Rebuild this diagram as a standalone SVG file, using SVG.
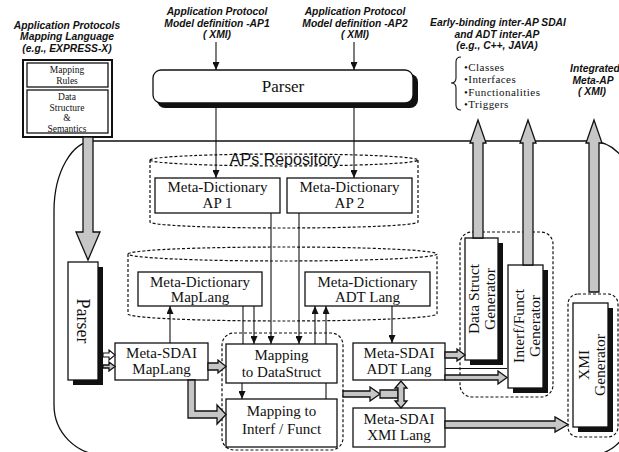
<svg xmlns="http://www.w3.org/2000/svg" width="619" height="452" viewBox="0 0 619 452">
<defs>
<style>
.lbl{font-family:"Liberation Sans",Arial,sans-serif;font-weight:bold;font-style:italic;font-size:10.3px;fill:#111;text-anchor:middle}
.t{font-family:"Liberation Serif","Times New Roman",serif;font-size:15px;fill:#111;text-anchor:middle}
.s{font-family:"Liberation Serif","Times New Roman",serif;font-size:9.5px;fill:#111;text-anchor:middle}
.b{font-family:"Liberation Serif","Times New Roman",serif;font-size:11px;letter-spacing:0.45px;fill:#111;text-anchor:start}
.box{fill:#fff;stroke:#111;stroke-width:1.3}
.sh{fill:#111}
.dash{fill:none;stroke:#111;stroke-width:1.2;stroke-dasharray:3 2}
.ln{fill:none;stroke:#111;stroke-width:1.1}
.gray{fill:#c6c6c6;stroke:#111;stroke-width:1.3}
.hol{fill:#fff;stroke:#111;stroke-width:1.1}
</style>
<marker id="ah" markerUnits="userSpaceOnUse" markerWidth="8" markerHeight="7" refX="8" refY="3.5" orient="auto">
<path d="M0,0 L8,3.5 L0,7 z" fill="#111"/>
</marker>
</defs>
<rect width="619" height="452" fill="#fff"/>

<!-- outer boundary -->
<path id="boundary" d="M94 141 H590 A40 40 0 0 1 630 181 V415 A40 40 0 0 1 590 455 H104 A50 50 0 0 1 54 405 V211 A40 70 0 0 1 94 141 Z" fill="none" stroke="#111" stroke-width="1.3"/>

<!-- labels -->
<g id="label-maplang">
<text class="lbl" x="67" y="29">Application Protocols</text>
<text class="lbl" x="67" y="40">Mapping Language</text>
<text class="lbl" x="67" y="51.5">(e.g., EXPRESS-X)</text>
</g>
<g id="label-ap1">
<text class="lbl" x="217" y="15">Application Protocol</text>
<text class="lbl" x="217" y="26.5">Model definition -AP1</text>
<text class="lbl" x="217" y="38">( XMI)</text>
</g>
<g id="label-ap2">
<text class="lbl" x="355" y="15">Application Protocol</text>
<text class="lbl" x="355" y="26.5">Model definition -AP2</text>
<text class="lbl" x="355" y="38">( XMI)</text>
</g>
<g id="label-early">
<text class="lbl" x="498" y="26">Early-binding inter-AP SDAI</text>
<text class="lbl" x="497" y="37.5">and ADT inter-AP</text>
<text class="lbl" x="497" y="49">(e.g., C++, JAVA)</text>
<path class="ln" d="M461 57 Q456 57 456 62 V78 Q456 83 451 83 Q456 83 456 88 V105 Q456 110 461 110"/>
<text class="b" x="464" y="71">•Classes</text>
<text class="b" x="464" y="83.3">•Interfaces</text>
<text class="b" x="464" y="95.6">•Functionalities</text>
<text class="b" x="464" y="108">•Triggers</text>
</g>
<g id="label-integrated">
<text class="lbl" x="595" y="72">Integrated</text>
<text class="lbl" x="593" y="83.5">Meta-AP</text>
<text class="lbl" x="592" y="95">( XMI)</text>
</g>

<!-- mapping language box -->
<g id="maplang-source">
<rect x="23" y="60" width="89" height="77" fill="#fff" stroke="#111" stroke-width="2"/>
<rect class="box" x="27" y="63" width="81" height="24"/>
<rect class="box" x="27" y="90" width="81" height="43"/>
<text class="s" x="67" y="73">Mapping</text>
<text class="s" x="67" y="84">Rules</text>
<text class="s" x="67" y="100">Data</text>
<text class="s" x="67" y="110.5">Structure</text>
<text class="s" x="67" y="121">&amp;</text>
<text class="s" x="67" y="131.5">Semantics</text>
</g>

<!-- top parser -->
<g id="parser-top">
<rect class="sh" x="157" y="74" width="261" height="34" rx="8"/>
<rect class="box" x="153" y="70" width="260" height="33" rx="8"/>
<text class="t" style="font-size:17px" x="283" y="92">Parser</text>
</g>

<!-- repository cylinder -->
<g id="aps-repository">
<path class="dash" d="M150 160 A134 6 0 0 1 418 160 A134 6 0 0 1 150 160 Z M150 160 V222 A134 6 0 0 0 418 222 V160"/>
<text x="285" y="165" style="font-family:'Liberation Sans',Arial,sans-serif;font-size:16px;fill:#111;text-anchor:middle">APs Repository</text>
</g>
<g id="md-ap1">
<rect class="box" x="155" y="178" width="125" height="35"/>
<text class="t" x="217.5" y="192">Meta-Dictionary</text>
<text class="t" x="217.5" y="207.5">AP 1</text>
</g>
<g id="md-ap2">
<rect class="box" x="287" y="178" width="125" height="35"/>
<text class="t" x="349.5" y="192">Meta-Dictionary</text>
<text class="t" x="349.5" y="207.5">AP 2</text>
</g>

<!-- lang cylinder -->
<g id="lang-repository">
<path class="dash" d="M128 254 A154.5 7 0 0 1 437 254 A154.5 7 0 0 1 128 254 Z M128 254 V314 A154.5 7 0 0 0 437 314 V254"/>
</g>
<g id="md-maplang">
<rect class="box" x="138" y="272" width="124" height="34"/>
<text class="t" x="200" y="286.5">Meta-Dictionary</text>
<text class="t" x="200" y="302">MapLang</text>
</g>
<g id="md-adtlang">
<rect class="box" x="305" y="272" width="125" height="34"/>
<text class="t" x="367.5" y="286.5">Meta-Dictionary</text>
<text class="t" x="367.5" y="302">ADT Lang</text>
</g>

<!-- left parser -->
<g id="parser-left">
<rect class="sh" x="73" y="267" width="30" height="118"/>
<rect class="box" x="68" y="262" width="30" height="118"/>
<text class="t" style="font-size:18px" transform="translate(83 321) rotate(90)" x="0" y="6">Parser</text>
</g>

<!-- SDAI boxes -->
<g id="sdai-maplang">
<rect class="box" x="115" y="343" width="93" height="37"/>
<text class="t" x="161.5" y="358">Meta-SDAI</text>
<text class="t" x="161.5" y="374">MapLang</text>
</g>
<g id="sdai-adtlang">
<rect class="box" x="353" y="343" width="92" height="37"/>
<text class="t" x="399" y="358">Meta-SDAI</text>
<text class="t" x="399" y="374">ADT Lang</text>
</g>
<g id="sdai-xmilang">
<rect class="box" x="353" y="408" width="92" height="39"/>
<text class="t" x="399" y="424">Meta-SDAI</text>
<text class="t" x="399" y="440">XMI Lang</text>
</g>

<!-- mapping group -->
<g id="mapping-group">
<rect class="dash" x="222" y="333" width="121" height="117" rx="12"/>
</g>
<g id="map-datastruct">
<rect class="box" x="226" y="344" width="111" height="39"/>
<text class="t" x="281.5" y="360">Mapping</text>
<text class="t" x="281.5" y="377">to DataStruct</text>
</g>
<g id="map-interf">
<rect class="box" x="226" y="399" width="111" height="48"/>
<text class="t" x="281.5" y="416">Mapping to</text>
<text class="t" x="281.5" y="434">Interf / Funct</text>
</g>

<!-- generators -->
<g id="gen-group">
<rect class="dash" x="460" y="232" width="93" height="165" rx="12"/>
</g>
<g id="gen-datastruct">
<rect class="sh" x="470" y="243" width="33" height="122"/>
<rect class="box" x="465" y="238" width="33" height="122"/>
<text class="t" style="font-size:15.5px" transform="translate(481.5 299) rotate(-90)" x="0" y="-3">Data Struct</text>
<text class="t" style="font-size:15.5px" transform="translate(481.5 299) rotate(-90)" x="0" y="13">Generator</text>
</g>
<g id="gen-interf">
<rect class="sh" x="513" y="270" width="35" height="123"/>
<rect class="box" x="508" y="265" width="35" height="123"/>
<text class="t" style="font-size:15.5px" transform="translate(525.5 326) rotate(-90)" x="0" y="-2">Interf/Funct</text>
<text class="t" style="font-size:15.5px" transform="translate(525.5 326) rotate(-90)" x="0" y="14">Generator</text>
</g>
<g id="xmi-group">
<rect class="dash" x="568" y="294" width="50" height="143" rx="10"/>
</g>
<g id="gen-xmi">
<rect class="sh" x="578" y="308" width="35" height="124"/>
<rect class="box" x="573" y="303" width="35" height="124"/>
<text class="t" style="font-size:15.5px" transform="translate(590.5 365) rotate(-90)" x="0" y="-2">XMI</text>
<text class="t" style="font-size:15.5px" transform="translate(590.5 365) rotate(-90)" x="0" y="14">Generator</text>
</g>

<!-- connectors -->
<g id="connectors">
<line class="ln" x1="216" y1="42" x2="216" y2="70" marker-end="url(#ah)"/>
<line class="ln" x1="354" y1="42" x2="354" y2="70" marker-end="url(#ah)"/>
<line class="ln" x1="216" y1="108" x2="216" y2="178" marker-end="url(#ah)"/>
<line class="ln" x1="354" y1="108" x2="354" y2="178" marker-end="url(#ah)"/>
<line class="ln" x1="271" y1="213" x2="271" y2="344" marker-end="url(#ah)"/>
<line class="ln" x1="299" y1="213" x2="299" y2="344" marker-end="url(#ah)"/>
<line class="ln" x1="243" y1="306" x2="243" y2="344"/>
<line class="ln" x1="254" y1="306" x2="254" y2="344" marker-end="url(#ah)"/>
<line class="ln" x1="315" y1="344" x2="315" y2="306" marker-end="url(#ah)"/>
<line class="ln" x1="326" y1="344" x2="326" y2="306" marker-end="url(#ah)"/>
<line class="ln" x1="170" y1="343" x2="170" y2="306" marker-end="url(#ah)"/>
<line class="ln" x1="392" y1="306" x2="392" y2="343" marker-end="url(#ah)"/>
<line class="ln" x1="242" y1="383" x2="242" y2="399" marker-end="url(#ah)"/>
<line class="ln" x1="326" y1="383" x2="326" y2="399"/>
<!-- thick gray arrows -->
<path class="gray" d="M83 137 V232 H76 L88 260 L100 232 H93 V137 Z"/>
<path class="gray" d="M473 238 V143 H470 L478 120 L486 143 H483 V238 Z"/>
<path class="gray" d="M523 265 V143 H520 L528 120 L536 143 H533 V265 Z"/>
<path class="gray" d="M589 292 V143 H586 L594 120 L602 143 H599 V292 Z"/>
<path class="gray" d="M188 380 V418 H217 V424 L226 414.5 L217 405 V411 H195 V380 Z"/>
<path class="gray" d="M343 391 H370 V387 L380 394 L370 401 V397 H343 Z"/>
<path class="gray" d="M380 390 H398 V398 H380 Z"/>
<path class="gray" d="M398 388 H395 L401 381 L407 388 H404 V401 H407 L401 408 L395 401 H398 Z"/>
<path class="gray" d="M445 421 H555 V417 L568 424.5 L555 432 V428 H445 Z"/>
<path class="gray" d="M445 375 H498 V371 L507 377.5 L498 384 V380 H445 Z"/>
<line class="ln" x1="445" y1="368.5" x2="507" y2="368.5"/>
<!-- small hollow arrows -->
<path class="gray" d="M445 352 H457 V349 L465 355 L457 361 V358 H445 Z"/>
<path class="gray" d="M208 363 H218 V360 L226 366.5 L218 373 V370 H208 Z"/>
<path class="hol" d="M103 353 H109 V350 L115 355 L109 360 V357 H103 Z"/>
<path class="gray" d="M103 365 H109 V362 L115 366.5 L109 371 V368 H103 Z"/>
</g>
</svg>
